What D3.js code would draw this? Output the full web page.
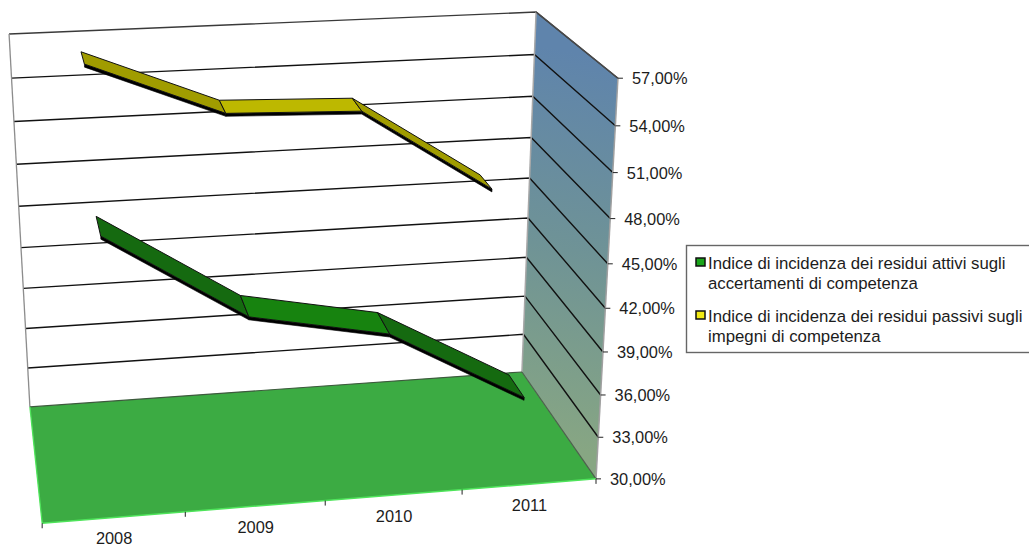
<!DOCTYPE html>
<html>
<head>
<meta charset="utf-8">
<style>
  body { margin: 0; background: #fff; }
  text { font-family: "Liberation Sans", Arial, sans-serif; fill: #1c1c1c; }
</style>
<script src="https://cdn.jsdelivr.net/npm/d3@7"></script>
</head>
<body>
<script>
const years = ['2008', '2009', '2010', '2011']
const attivi = [48.1, 42.2, 40.4, 35.3]
const passivi = [56.4, 52.7, 52.4, 46.5]
const valueTicks = [30, 33, 36, 39, 42, 45, 48, 51, 54, 57]
const attiviDepth = [0.68, 0.89]
const passiviDepth = [0.18, 0.36]
const attiviShades = ['#156a10', '#17830f', '#156a10']
const passiviShades = ['#a09c00', '#bdb800', '#a09c00']
const legendAttivi = ['Indice di incidenza dei residui attivi sugli', 'accertamenti di competenza']
const legendPassivi = ['Indice di incidenza dei residui passivi sugli', 'impegni di competenza']

const width = 1029
const height = 546

// camera of the 3d box: (u, v, d) in 0..1 goes to screen px
const cam = [512.94726, -21.44794, 7.33691, 29.90175,
  -20.02344, -375.13237, 55.16504, 406.90746,
  0.04006, -0.06748, -0.11694]
const project = (u, v, d) => {
  const w = cam[8] * u + cam[9] * v + cam[10] * d + 1
  return [
    (cam[0] * u + cam[1] * v + cam[2] * d + cam[3]) / w,
    (cam[4] * u + cam[5] * v + cam[6] * d + cam[7]) / w
  ]
}

const xBand = d3.scaleBand().domain(years).range([0, 1])
const yScale = d3.scaleLinear().domain([30, 57]).range([0, 1])
const xMid = year => xBand(year) + xBand.bandwidth() / 2
const yMax = d3.max(valueTicks)
const poly = d3.line().curve(d3.curveLinearClosed)
const seg = d3.line()

const svg = d3.select('body').append('svg')
  .attr('width', width)
  .attr('height', height)
  .style('display', 'block')

const grad = svg.append('defs').append('linearGradient')
  .attr('id', 'wall')
  .attr('gradientUnits', 'userSpaceOnUse')
  .attr('x1', 610).attr('y1', 60)
  .attr('x2', 530).attr('y2', 440)
grad.append('stop').attr('offset', 0).attr('stop-color', '#5f84ac')
grad.append('stop').attr('offset', 0.5).attr('stop-color', '#6f9396')
grad.append('stop').attr('offset', 1).attr('stop-color', '#87a683')

// side wall and floor
svg.append('path')
  .attr('d', poly([project(1, 0, 0), project(1, 1, 0), project(1, 1, 1), project(1, 0, 1)]))
  .attr('fill', 'url(#wall)')
svg.append('path')
  .attr('d', poly([project(0, 0, 0), project(1, 0, 0), project(1, 0, 1), project(0, 0, 1)]))
  .attr('fill', '#3cab43')

// gridlines across back wall and side wall
svg.selectAll('.grid')
  .data(valueTicks.slice(1))
  .enter().append('path')
  .attr('class', 'grid')
  .attr('d', t => seg([project(0, yScale(t), 0), project(1, yScale(t), 0), project(1, yScale(t), 1)]))
  .attr('fill', 'none')
  .attr('stroke', t => t === yMax ? '#3a3a3a' : '#111')
  .attr('stroke-width', 1.4)

// box edges
const edges = [
  { from: [0, 0, 0], to: [0, 1, 0], color: '#8c8c8c', w: 1.3 },
  { from: [1, 0, 0], to: [1, 1, 0], color: '#a8a8a8', w: 1.5 },
  { from: [1, 0, 1], to: [1, 1, 1], color: '#a0a0a0', w: 1.5 },
  { from: [1, 1, 0], to: [1, 1, 1], color: '#4a4a4a', w: 1.3 },
  { from: [0, 0, 0], to: [1, 0, 0], color: '#3d5a3d', w: 1.2 },
  { from: [1, 0, 0], to: [1, 0, 1], color: '#4d5f4d', w: 1.2 },
  { from: [0, 0, 0], to: [0, 0, 1], color: '#4ee45a', w: 1.3 },
  { from: [0, 0, 1], to: [1, 0, 1], color: '#4ee45a', w: 1.5 }
]
svg.selectAll('.edge')
  .data(edges)
  .enter().append('path')
  .attr('class', 'edge')
  .attr('d', e => seg([project(...e.from), project(...e.to)]))
  .attr('stroke', e => e.color)
  .attr('stroke-width', e => e.w)

// one ribbon per series, back one first
const ribbon = (values, depth, shades) => {
  const g = svg.append('g')
  const thick = 0.2
  d3.pairs(values.map((v, i) => ({ u: xMid(years[i]), v: yScale(v), vLow: yScale(v - thick) })))
    .forEach(([a, b], i) => {
      g.append('path')
        .attr('d', poly([project(a.u, a.v, depth[1]), project(b.u, b.v, depth[1]),
          project(b.u, b.vLow, depth[1]), project(a.u, a.vLow, depth[1])]))
        .attr('fill', '#000')
        .attr('stroke', '#000')
        .attr('stroke-width', 0.6)
      g.append('path')
        .attr('d', poly([project(a.u, a.v, depth[0]), project(b.u, b.v, depth[0]),
          project(b.u, b.v, depth[1]), project(a.u, a.v, depth[1])]))
        .attr('fill', shades[i])
        .attr('stroke', '#111')
        .attr('stroke-width', 1)
        .attr('stroke-linejoin', 'round')
    })
}
ribbon(passivi, passiviDepth, passiviShades)
ribbon(attivi, attiviDepth, attiviShades)

// value axis at the front of the side wall
const yAxis = svg.append('g')
valueTicks.forEach(t => {
  const [x, y] = project(1, yScale(t), 1)
  yAxis.append('line')
    .attr('x1', x).attr('y1', y).attr('x2', x + 5).attr('y2', y)
    .attr('stroke', '#222')
  yAxis.append('text')
    .attr('x', x + 14)
    .attr('y', y + 6)
    .attr('font-size', 16.4)
    .text(d3.format('.2f')(t).replace('.', ',') + '%')
})

// category axis along the front of the floor
const xAxis = svg.append('g')
d3.range(years.length + 1).forEach(i => {
  const [x, y] = project(i / years.length, 0, 1)
  xAxis.append('line')
    .attr('x1', x).attr('y1', y).attr('x2', x).attr('y2', y + 5)
    .attr('stroke', '#222')
})
years.forEach(year => {
  const [x, y] = project(xMid(year), 0, 1)
  xAxis.append('text')
    .attr('x', x)
    .attr('y', y + 26.5)
    .attr('text-anchor', 'middle')
    .attr('font-size', 16.4)
    .text(year)
})

// legend, its right side runs off the page
const legend = svg.append('g').attr('transform', 'translate(686,245)')
legend.append('rect')
  .attr('x', 0.5).attr('y', 0.5)
  .attr('width', 360).attr('height', 107)
  .attr('fill', '#fff')
  .attr('stroke', '#666')
  .attr('stroke-width', 1.4)
const legendItems = [
  { lines: legendAttivi, color: '#1aa51a', y: 24 },
  { lines: legendPassivi, color: '#f2ea14', y: 77 }
]
legendItems.forEach(item => {
  legend.append('rect')
    .attr('x', 10).attr('y', item.y - 11)
    .attr('width', 9).attr('height', 8)
    .attr('fill', item.color)
    .attr('stroke', '#111')
    .attr('stroke-width', 1.5)
  item.lines.forEach((line, i) => {
    legend.append('text')
      .attr('x', 22)
      .attr('y', item.y + i * 20)
      .attr('font-size', 16.8)
      .text(line)
  })
})
</script>
</body>
</html>
